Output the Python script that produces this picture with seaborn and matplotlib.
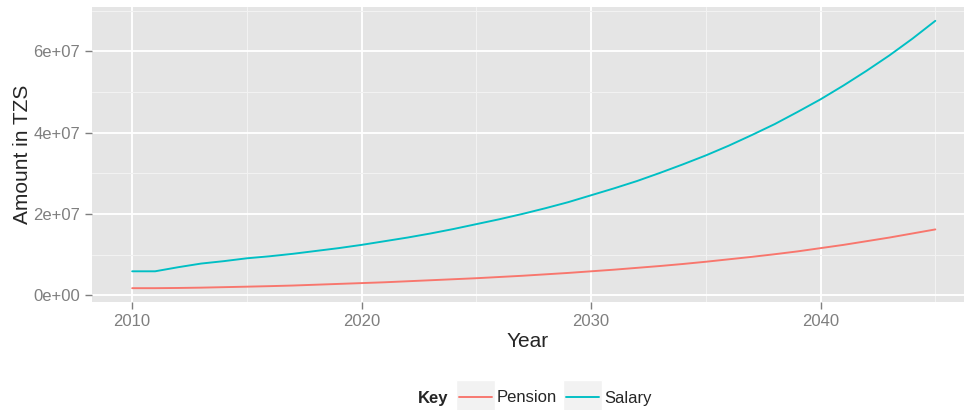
import numpy as np
import pandas as pd
import matplotlib
matplotlib.use("Agg")
import matplotlib.pyplot as plt
from matplotlib.ticker import MultipleLocator, FuncFormatter
from matplotlib.patches import Rectangle
from matplotlib.transforms import IdentityTransform
from matplotlib.lines import Line2D
import seaborn as sns

# values (TZS)
years = list(range(2010, 2046))
salary = [5.9e6, 5.9e6, 6.9e6, 7.8e6, 8.4e6, 9.1e6, 9.6e6, 10.2e6, 10.9e6, 11.6e6,
          12.4e6, 13.3e6, 14.2e6, 15.2e6, 16.3e6, 17.5e6, 18.7e6, 20.0e6, 21.4e6, 22.9e6,
          24.6e6, 26.3e6, 28.1e6, 30.1e6, 32.2e6, 34.4e6, 36.8e6, 39.4e6, 42.1e6, 45.1e6,
          48.2e6, 51.6e6, 55.2e6, 59.0e6, 63.1e6, 67.5e6]
pension = [1.75e6, 1.75e6, 1.80e6, 1.88e6, 2.0e6, 2.12e6, 2.25e6, 2.4e6, 2.6e6, 2.8e6,
           3.0e6, 3.2e6, 3.45e6, 3.7e6, 3.95e6, 4.2e6, 4.5e6, 4.8e6, 5.15e6, 5.5e6,
           5.9e6, 6.3e6, 6.75e6, 7.2e6, 7.7e6, 8.25e6, 8.85e6, 9.45e6, 10.1e6, 10.8e6,
           11.6e6, 12.4e6, 13.3e6, 14.2e6, 15.2e6, 16.2e6]
keys = ["Pension", "Salary"]
colors = ["#F8766D", "#00BFC4"]

df = pd.DataFrame({
    "Year": years * 2,
    "Amount": pension + salary,
    "Key": ["Pension"] * len(years) + ["Salary"] * len(years),
})

sns.set_style("darkgrid", {"axes.facecolor": "#E5E5E5", "grid.color": "white"})
plt.rcParams["font.family"] = ["Liberation Sans", "DejaVu Sans"]

dpi = 125
fig = plt.figure(figsize=(964 / dpi, 410 / dpi), dpi=dpi)
ax = fig.add_axes([92 / 964, 1 - 302 / 410, 872 / 964, 295 / 410])

sns.lineplot(data=df, x="Year", y="Amount", hue="Key", hue_order=keys,
             palette=colors, lw=1.1, ax=ax, legend=False)

ax.set_xlim(2008.25, 2046.25)
ax.set_ylim(-1.65e6, 7.09e7)
ax.xaxis.set_major_locator(MultipleLocator(10))
ax.xaxis.set_minor_locator(MultipleLocator(5))
ax.yaxis.set_major_locator(MultipleLocator(2e7))
ax.yaxis.set_minor_locator(MultipleLocator(1e7))
ax.yaxis.set_major_formatter(FuncFormatter(lambda v, p: "%de+%02d" % (round(v / 1e7), 7) if v else "0e+00"))

ax.grid(which="major", color="white", lw=1.1)
ax.grid(which="minor", color="#F2F2F2", lw=0.6)
ax.set_axisbelow(True)
for s in ax.spines.values():
    s.set_visible(False)

ax.tick_params(which="major", length=4.2, width=0.8, color="#7F7F7F",
               labelcolor="#7F7F7F", labelsize=9.6, pad=2.5)
ax.tick_params(which="minor", length=0)
ax.tick_params(axis="x", bottom=True)
ax.tick_params(axis="y", left=True)

ax.set_xlabel("Year", fontsize=12, labelpad=2)
ax.set_ylabel("Amount in TZS", fontsize=12, labelpad=1)

handles = [Line2D([], [], color=c, lw=1.1) for c in colors]
leg = fig.legend(handles, keys, loc="center", ncol=2, frameon=False,
                 bbox_to_anchor=(555 / 964, 1 - 398 / 410), fontsize=9.6,
                 handlelength=2.0, handletextpad=0.3, columnspacing=0.5)
fig.text(418 / 964, 1 - 398 / 410, "Key", fontsize=9.6, fontweight="bold", va="center")

# grey key boxes behind the legend lines, like ggplot
fig.canvas.draw()
for ln in leg.get_lines():
    bb = ln.get_window_extent()
    cy = (bb.y0 + bb.y1) / 2
    r = Rectangle((bb.x0 - 3, cy - 17), bb.width + 6, 34, facecolor="#F2F2F2",
                  edgecolor="white", lw=0.8, transform=IdentityTransform(), zorder=-1)
    fig.patches.append(r)

fig.savefig("out.png", dpi=dpi)
